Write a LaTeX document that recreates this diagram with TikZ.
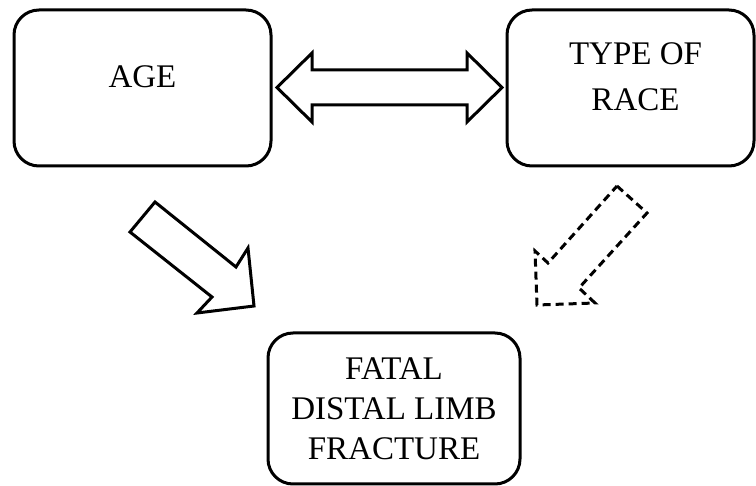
\documentclass[tikz,border=0pt]{standalone}
\usepackage{fontspec}
\setmainfont{Liberation Serif}
\usepackage{tikz}
\usetikzlibrary{calc}

\begin{document}
\begin{tikzpicture}[x=1pt, y=-1pt,
    blockbox/.style={draw, line width=3pt, rounded corners=25pt, inner sep=0pt},
    boxtext/.style={align=center, font=\fontsize{33}{40}\selectfont, inner sep=0pt},
    bigarrow/.style={draw, line width=3pt, fill=white},
    dasharrow/.style={draw, line width=3pt, dash pattern=on 8pt off 5pt}]
  \useasboundingbox (0,0) rectangle (756,486);

  % the three boxes
  \node[blockbox, minimum width=257pt, minimum height=156pt] (age) at (142.5,88) {};
  \node[blockbox, minimum width=247pt, minimum height=156pt] (race) at (630.5,88) {};
  \node[blockbox, minimum width=252pt, minimum height=151pt] (fatal) at (394,408.5) {};

  \node[boxtext] (agetext) at ([yshift=11pt]age.center) {AGE};
  \node[boxtext] (racetext) at ([yshift=11pt, xshift=5pt]race.center) {TYPE OF\\[6pt]RACE};
  \node[boxtext] (fataltext) at (fatal.center) {FATAL\\DISTAL LIMB\\FRACTURE};

  % block arrows
  \draw[bigarrow] (277,87.5) -- (312,53) -- (312,70) -- (467,70) -- (467,53)
    -- (502,87.5) -- (467,122) -- (467,105) -- (312,105) -- (312,122) -- cycle;
  \draw[bigarrow] (155,202) -- (236,267) -- (248,248) -- (254,306)
    -- (197,313) -- (212,297) -- (130,232) -- cycle;
  \draw[dasharrow] (617,186) -- (647,213) -- (579,288) -- (595,303)
    -- (537,305) -- (535,251) -- (548,263) -- cycle;
\end{tikzpicture}
\end{document}
